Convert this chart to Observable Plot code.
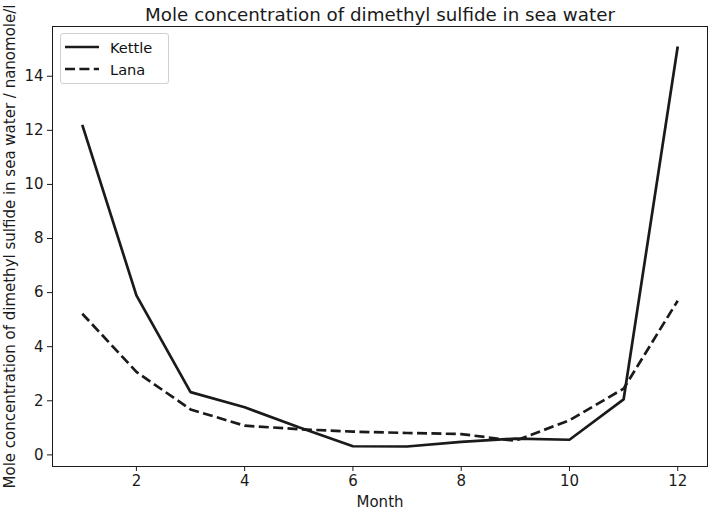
<!DOCTYPE html>
<html><head><meta charset="utf-8">
<script src="https://cdn.jsdelivr.net/npm/d3@7"></script>
<script src="https://cdn.jsdelivr.net/npm/@observablehq/plot@0.6"></script>
<style>
body{margin:0;background:#fff;font-family:"DejaVu Sans",sans-serif;}
#wrap{position:relative;width:709px;height:511px;}
.legend{position:absolute;left:60px;top:33px;width:107px;height:49px;border:1px solid #d0d0d0;border-radius:3px;background:rgba(255,255,255,0.85);font-size:14.6px;color:#111;}
.legend .row{position:absolute;left:4px;height:20px;display:flex;align-items:center;}
.legend svg{margin-right:11px;}
</style></head><body><div id="wrap"></div>
<script>
const chartTitle = "Mole concentration of dimethyl sulfide in sea water";
const xLabel = "Month";
const yLabel = "Mole concentration of dimethyl sulfide in sea water / nanomole/l";
const seriesNames = ["Kettle", "Lana"];
const months = [1, 2, 3, 4, 5, 6, 7, 8, 9, 10, 11, 12];
const kettle = [12.2, 5.9, 2.32, 1.76, 1.02, 0.32, 0.31, 0.48, 0.6, 0.56, 2.05, 15.1];
const lana = [5.22, 3.07, 1.68, 1.08, 0.95, 0.86, 0.81, 0.77, 0.52, 1.28, 2.45, 5.7];
const xTicks = [2, 4, 6, 8, 10, 12];
const yTicks = [0, 2, 4, 6, 8, 10, 12, 14];

const rows = [];
months.forEach((m, i) => {
  rows.push({month: m, value: kettle[i], series: seriesNames[0]});
  rows.push({month: m, value: lana[i], series: seriesNames[1]});
});

const xMin = d3.min(months), xMax = d3.max(months);
const xPad = (xMax - xMin) * 0.05;
const allVals = kettle.concat(lana);
const yMin = d3.min(allVals), yMax = d3.max(allVals);
const yPad = (yMax - yMin) * 0.05;

const ink = "#1a1a1a";
const chart = Plot.plot({
  width: 709,
  height: 511,
  marginLeft: 52,
  marginRight: 2,
  marginTop: 26,
  marginBottom: 45,
  style: {fontFamily: "DejaVu Sans, sans-serif", fontSize: "15px", color: ink, background: "#fff"},
  x: {domain: [xMin - xPad, xMax + xPad]},
  y: {domain: [yMin - yPad, yMax + yPad]},
  marks: [
    Plot.axisX({ticks: xTicks, tickSize: 5, tickPadding: 4, tickFormat: d => String(d), label: xLabel, labelAnchor: "center", labelArrow: "none", labelOffset: 40, fontSize: 15}),
    Plot.axisY({ticks: yTicks, tickSize: 5, tickPadding: 4, tickFormat: d => String(d), label: yLabel, labelAnchor: "center", labelArrow: "none", labelOffset: 48, fontSize: 15}),
    Plot.line(rows.filter(d => d.series === seriesNames[0]), {x: "month", y: "value", stroke: ink, strokeWidth: 2.7, strokeLinejoin: "miter", strokeLinecap: "butt"}),
    Plot.line(rows.filter(d => d.series === seriesNames[1]), {x: "month", y: "value", stroke: ink, strokeWidth: 2.7, strokeDasharray: "10,4.4", strokeLinecap: "butt"}),
    Plot.frame({stroke: ink, strokeWidth: 1}),
    Plot.text([chartTitle], {frameAnchor: "top", lineAnchor: "bottom", dy: -6, fontSize: 18.3, fill: ink})
  ]
});
chart.querySelectorAll('[aria-label="x-axis label"] text, [aria-label="y-axis label"] text').forEach(t => t.setAttribute("font-size", "15"));
const wrap = document.getElementById("wrap");
wrap.appendChild(chart);

const legend = document.createElement("div");
legend.className = "legend";
seriesNames.forEach((name, i) => {
  const row = document.createElement("div");
  row.className = "row";
  row.style.top = (i === 0 ? 3 : 25) + "px";
  const dash = i === 0 ? "" : 'stroke-dasharray="10,4.4"';
  row.innerHTML = `<svg width="34" height="6"><line x1="0" y1="3" x2="34" y2="3" stroke="${ink}" stroke-width="2.7" ${dash}/></svg><span>${name}</span>`;
  legend.appendChild(row);
});
wrap.appendChild(legend);
</script></body></html>
